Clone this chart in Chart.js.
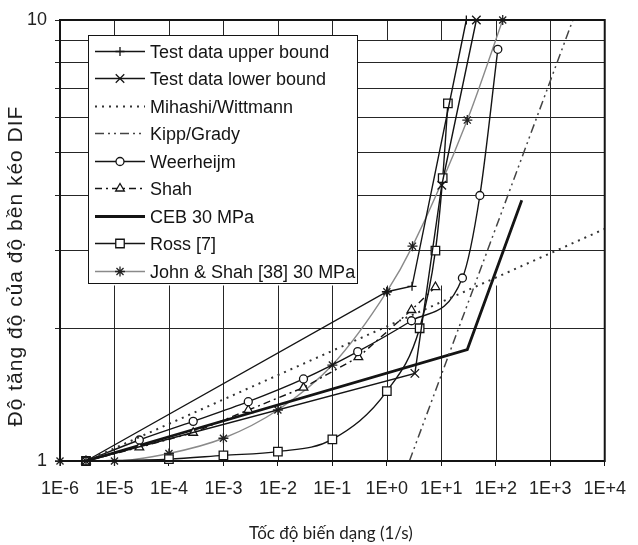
<!DOCTYPE html>
<html><head><meta charset="utf-8">
<style>html,body{margin:0;padding:0;background:#fff}canvas{display:block}</style>
<script src="https://cdn.jsdelivr.net/npm/chart.js@4.4.1/dist/chart.umd.min.js"></script>
</head><body>
<canvas id="c" width="638" height="545"></canvas>
<script>
// ---- data ----
const xTickValues = [1e-6, 1e-5, 1e-4, 1e-3, 1e-2, 1e-1, 1, 10, 100, 1000, 10000];
const xTickLabels = ['1E-6','1E-5','1E-4','1E-3','1E-2','1E-1','1E+0','1E+1','1E+2','1E+3','1E+4'];
const yTickValues = [1, 2, 3, 4, 5, 6, 7, 8, 9, 10];
const yTickLabels = ['1', '', '', '', '', '', '', '', '', '10'];

const seriesNames = ['Test data upper bound', 'Test data lower bound', 'Mihashi/Wittmann', 'Kipp/Grady',
  'Weerheijm', 'Shah', 'CEB 30 MPa', 'Ross [7]', 'John & Shah [38] 30 MPa'];

const upperRate = [3e-6, 1, 2.9, 28.8];
const upperDIF  = [1, 2.42, 2.49, 10];
const lowerRate = [3e-6, 3.27, 10.2, 44];
const lowerDIF  = [1, 1.58, 4.22, 10];
const mihashiRate = [3e-6, 1e4];
const mihashiDIF  = [1, 3.36];
const kippRate = [2.6, 2600];
const kippDIF  = [1, 10];
const weerRate = [3e-6, 2.86e-5, 2.79e-4, 2.86e-3, 2.95e-2, 0.292, 2.83, 24.4, 51, 109];
const weerDIF  = [1, 1.116, 1.23, 1.363, 1.535, 1.77, 2.08, 2.60, 4.0, 8.58];
const shahRate = [3e-6, 2.86e-5, 2.79e-4, 2.86e-3, 2.95e-2, 0.30, 2.83, 7.8];
const shahDIF  = [1, 1.074, 1.159, 1.305, 1.467, 1.72, 2.2, 2.48];
const cebRate = [3e-6, 30, 300];
const cebDIF  = [1, 1.79, 3.9];
const rossRate = [3e-6, 1e-4, 1e-3, 1e-2, 1e-1, 1, 4, 7.8, 10.6, 13.2];
const rossDIF  = [1, 1.01, 1.03, 1.05, 1.12, 1.44, 2.0, 3.0, 4.38, 6.47];
const jsRate = [1e-6, 1e-5, 1e-4, 1e-3, 1e-2, 1e-1, 1, 2.96, 30, 134];
const jsDIF  = [1, 1.0, 1.04, 1.126, 1.305, 1.65, 2.42, 3.07, 5.93, 10];

const xTitle = 'Tốc độ biến dạng (1/s)';
const yTitle = 'Độ tăng độ của độ bền kéo DIF';

// vertical grid segments (in DIF units) as they appear in the reference
const vGridLow = [1, 2.5];
const vGridTop = [9, 10];
const vGridFull = [1000];

// ---- styling ----
const INK = '#141414';
const GREY = '#8a8a8a';
const GRID = '#262626';
const CLIP = {left: 8, top: 8, right: 2, bottom: 8};

function pts(xs, ys) { return xs.map((x, i) => ({x: x, y: ys[i]})); }

function ds(label, data, o) {
  return Object.assign({
    label: label, data: data, showLine: true, clip: CLIP,
    borderColor: INK, borderWidth: 1.4, borderDash: [],
    pointStyle: 'circle', pointRadius: 0, pointBorderColor: INK, pointBackgroundColor: '#fff',
    pointBorderWidth: 1.3, tension: 0, fill: false
  }, o);
}

const datasets = [
  ds(seriesNames[0], pts(upperRate, upperDIF), {pointStyle: 'cross', pointRadius: 4.5}),
  ds(seriesNames[1], pts(lowerRate, lowerDIF), {pointStyle: 'crossRot', pointRadius: 6}),
  ds(seriesNames[2], pts(mihashiRate, mihashiDIF), {borderColor: '#333', borderWidth: 2, borderDash: [2, 5]}),
  ds(seriesNames[3], pts(kippRate, kippDIF), {borderColor: '#444', borderWidth: 1.5, borderDash: [9, 4, 2, 4, 2, 4]}),
  ds(seriesNames[4], pts(weerRate, weerDIF), {pointStyle: 'circle', pointRadius: 4, cubicInterpolationMode: 'monotone'}),
  ds(seriesNames[5], pts(shahRate, shahDIF), {pointStyle: 'triangle', pointRadius: 5, borderDash: [7, 4, 2, 4]}),
  ds(seriesNames[6], pts(cebRate, cebDIF), {borderWidth: 2.8}),
  ds(seriesNames[7], pts(rossRate, rossDIF), {pointStyle: 'rect', pointRadius: 6, cubicInterpolationMode: 'monotone'}),
  ds(seriesNames[8], pts(jsRate, jsDIF), {borderColor: GREY, pointBorderColor: '#222', pointStyle: 'star', pointRadius: 5, cubicInterpolationMode: 'monotone'})
];

// ---- legend / frame / titles drawn on the canvas ----
const LEG = {left: 88, top: 35, right: 357, bottom: 283, base0: 58, step: 27.45, x0: 95, x1: 145, tx: 150};

function marker(ctx, style, r, x, y, color, lw) {
  ctx.save();
  ctx.setLineDash([]);
  ctx.lineWidth = lw; ctx.strokeStyle = color; ctx.fillStyle = '#fff';
  ctx.beginPath();
  const q = Math.PI / 4;
  const arms = (rad) => {
    const xo = Math.cos(rad) * r, yo = Math.sin(rad) * r;
    ctx.moveTo(x - xo, y - yo); ctx.lineTo(x + xo, y + yo);
    ctx.moveTo(x + yo, y - xo); ctx.lineTo(x - yo, y + xo);
  };
  if (style === 'circle') { ctx.arc(x, y, r, 0, 2 * Math.PI); ctx.fill(); ctx.stroke(); }
  else if (style === 'rect') { const s = r * Math.SQRT1_2; ctx.rect(x - s, y - s, 2 * s, 2 * s); ctx.fill(); ctx.stroke(); }
  else if (style === 'triangle') {
    let a = 0;
    ctx.moveTo(x + Math.sin(a) * r, y - Math.cos(a) * r); a += 2 * Math.PI / 3;
    ctx.lineTo(x + Math.sin(a) * r, y - Math.cos(a) * r); a += 2 * Math.PI / 3;
    ctx.lineTo(x + Math.sin(a) * r, y - Math.cos(a) * r);
    ctx.closePath(); ctx.fill(); ctx.stroke();
  }
  else if (style === 'cross') { arms(0); ctx.stroke(); }
  else if (style === 'crossRot') { arms(q); ctx.stroke(); }
  else if (style === 'star') { arms(0); arms(q); ctx.stroke(); }
  ctx.restore();
}

const decor = {
  id: 'decor',
  beforeDraw(c) {
    const ctx = c.ctx; ctx.save(); ctx.fillStyle = '#fff'; ctx.fillRect(0, 0, c.width, c.height); ctx.restore();
  },
  beforeDatasetsDraw(c) {
    const ctx = c.ctx, xs = c.scales.x, ys = c.scales.y;
    ctx.save(); ctx.strokeStyle = GRID; ctx.lineWidth = 1;
    xTickValues.slice(1, -1).forEach(v => {
      const px = Math.round(xs.getPixelForValue(v)) + 0.5;
      const segs = vGridFull.includes(v) ? [[1, 10]] : [vGridLow, vGridTop];
      segs.forEach(s => {
        ctx.beginPath();
        ctx.moveTo(px, ys.getPixelForValue(s[0]));
        ctx.lineTo(px, ys.getPixelForValue(s[1]));
        ctx.stroke();
      });
    });
    ctx.restore();
  },
  afterDatasetsDraw(c) {
    const ctx = c.ctx, a = c.chartArea;
    // legend
    ctx.save();
    ctx.fillStyle = '#fff';
    ctx.fillRect(LEG.left, LEG.top, LEG.right - LEG.left, LEG.bottom - LEG.top);
    ctx.strokeStyle = INK; ctx.lineWidth = 1;
    ctx.strokeRect(LEG.left + 0.5, LEG.top + 0.5, LEG.right - LEG.left, LEG.bottom - LEG.top);
    c.data.datasets.forEach((d, i) => {
      const base = LEG.base0 + LEG.step * i, ly = Math.round(base - 7) + 0.5;
      ctx.save();
      ctx.strokeStyle = d.borderColor; ctx.lineWidth = d.borderWidth; ctx.setLineDash(d.borderDash || []);
      ctx.beginPath(); ctx.moveTo(LEG.x0, ly); ctx.lineTo(LEG.x1, ly); ctx.stroke();
      ctx.restore();
      if (d.pointRadius > 0) marker(ctx, d.pointStyle, d.pointRadius, (LEG.x0 + LEG.x1) / 2, ly, d.pointBorderColor, d.pointBorderWidth);
      ctx.fillStyle = INK; ctx.font = '18px "Liberation Sans", Arial, sans-serif';
      ctx.textBaseline = 'alphabetic'; ctx.textAlign = 'left';
      ctx.fillText(d.label, LEG.tx, base);
    });
    // frame
    ctx.strokeStyle = INK; ctx.lineWidth = 2;
    ctx.strokeRect(a.left, a.top, a.right - a.left, a.bottom - a.top);
    ctx.restore();
  },
  afterDraw(c) {
    const ctx = c.ctx;
    ctx.save();
    ctx.fillStyle = '#1e1e1e';
    ctx.textAlign = 'center'; ctx.textBaseline = 'alphabetic';
    ctx.font = '17px Lato, "Open Sans", sans-serif';
    ctx.fillText(xTitle, 331, 539);
    ctx.translate(22, 266); ctx.rotate(-Math.PI / 2);
    ctx.font = '21px "Liberation Sans", Arial, sans-serif';
    try { ctx.letterSpacing = '1px'; } catch (e) {}
    ctx.fillText(yTitle, 0, 0);
    ctx.restore();
  }
};

new Chart(document.getElementById('c'), {
  type: 'scatter',
  data: {datasets: datasets},
  plugins: [decor],
  options: {
    responsive: false, animation: false, events: [],
    layout: {padding: {top: 20, right: 24, left: 0, bottom: 0}},
    plugins: {legend: {display: false}, tooltip: {enabled: false}, title: {display: false}},
    scales: {
      x: {
        type: 'logarithmic', position: 'bottom', min: 1e-6, max: 1e4,
        afterBuildTicks: s => { s.ticks = xTickValues.map(v => ({value: v})); },
        afterFit: s => { s.height = 84; },
        ticks: {autoSkip: false, maxRotation: 0, minRotation: 0, padding: 12, color: '#222',
          font: {family: '"Liberation Sans", Arial, sans-serif', size: 18},
          callback: (v, i) => xTickLabels[i]},
        grid: {drawOnChartArea: false, drawTicks: true, tickLength: 5, color: INK, lineWidth: 1},
        border: {display: true, color: INK, width: 2},
        title: {display: false}
      },
      y: {
        type: 'logarithmic', position: 'left', min: 1, max: 10,
        afterBuildTicks: s => { s.ticks = yTickValues.map(v => ({value: v})); },
        afterFit: s => { s.width = 60; },
        ticks: {autoSkip: false, padding: 8, color: '#222',
          font: {family: '"Liberation Sans", Arial, sans-serif', size: 18},
          callback: (v, i) => yTickLabels[i]},
        grid: {drawOnChartArea: true, drawTicks: true, tickLength: 5, color: GRID, lineWidth: 1},
        border: {display: true, color: INK, width: 2},
        title: {display: false}
      }
    }
  }
});
</script>
</body></html>
